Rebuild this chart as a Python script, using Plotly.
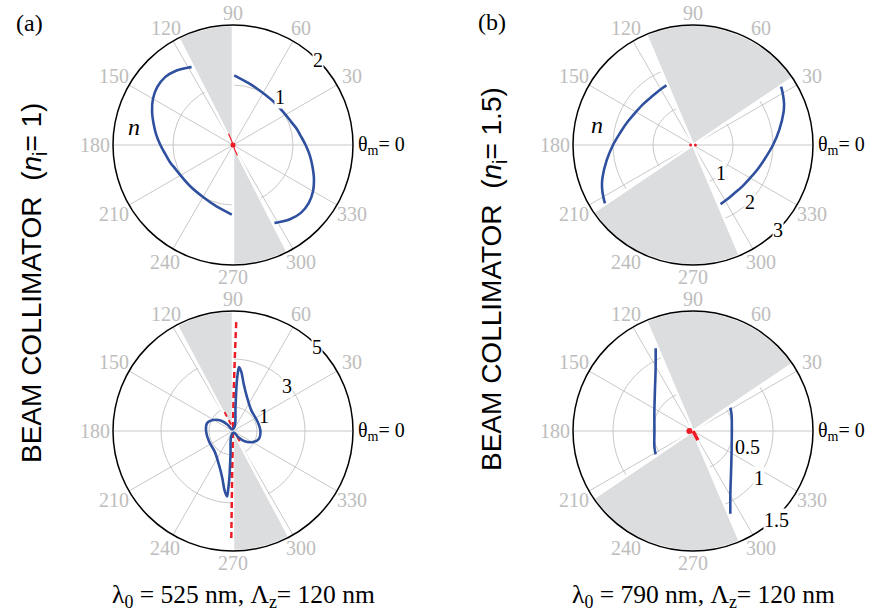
import math
import plotly.graph_objects as go

W, H = 872, 615

# ---------------- data ----------------
ANG_TICKS = [0, 30, 60, 90, 120, 150, 180, 210, 240, 270, 300, 330]
ANG_TEXT = ["θ<sub>m</sub>= 0", "30", "60", "90", "120", "150",
            "180", "210", "240", "270", "300", "330"]

# (a) top : n_i = 1, lambda0 = 525 nm
A1_RMAX = 2
A1_GRID = [1]
A1_WEDGE_THETA = [103.5, 283.5]
A1_WEDGE_WIDTH = [27, 27]
A1_R_THETA = [298, 300, 307.5, 315, 322.5, 330, 337.5, 345, 352.5, 0, 7.5, 15, 22.5, 30, 45, 60, 75, 82, 89]
A1_R_R = [1.47, 1.49, 1.56, 1.60, 1.59, 1.54, 1.46, 1.37, 1.29, 1.21, 1.14, 1.09, 1.04, 1.01, 0.99, 1.00, 1.06, 1.10, 1.16]
A1_L_THETA = [118, 120, 127.5, 135, 142.5, 150, 157.5, 165, 172.5, 180, 187.5, 195, 202.5, 210, 225, 240, 255, 262, 269]
A1_L_R = [1.47, 1.49, 1.56, 1.60, 1.59, 1.54, 1.46, 1.37, 1.29, 1.21, 1.14, 1.09, 1.04, 1.01, 0.99, 1.00, 1.06, 1.10, 1.16]
A1_RED_THETA = [112, 108, 0, 290, 293]
A1_RED_R = [0.2, 0.08, 0, 0.08, 0.19]

# (b) top : n_i = 1.5, lambda0 = 790 nm
B1_RMAX = 3
B1_GRID = [1, 2]
B1_WEDGE_THETA = [73.5, 253.5]
B1_WEDGE_WIDTH = [79, 79]
B1_R_THETA = [295, 300, 310, 320, 330, 340, 350, 0, 10, 20, 25, 30, 33.5]
B1_R_R = [1.63, 1.61, 1.59, 1.61, 1.65, 1.73, 1.84, 2.00, 2.19, 2.41, 2.51, 2.59, 2.64]
B1_L_THETA = [114, 120, 130, 140, 150, 160, 170, 180, 190, 200, 205, 210, 213.5]
B1_L_R = [1.63, 1.61, 1.59, 1.61, 1.65, 1.73, 1.84, 2.00, 2.19, 2.41, 2.51, 2.59, 2.64]
B1_RED_THETA = [180, 0]
B1_RED_R = [0.06, 0.06]

# (a) bottom
A2_RMAX = 5
A2_GRID = [1, 3]
A2_WEDGE_THETA = [104, 284]
A2_WEDGE_WIDTH = [28, 28]
A2_LOBE_THETA = [70, 84, 85.6, 85.3, 84.6, 81.9, 77.3, 67.6, 48.4, 23.9, 1.4, 343.6, 331.2, 318.5, 310, 300,
                 250, 264, 265.6, 265.3, 264.8, 261.9, 257.3, 247.6, 228.4, 203.9, 181.4, 163.6, 151.2, 138.5, 130, 120,
                 70]
A2_LOBE_R = [0.2, 1.0, 1.98, 2.4, 2.68, 2.48, 2.02, 1.53, 1.15, 1.09, 1.14, 1.13, 0.95, 0.65, 0.33, 0.08,
             0.2, 1.0, 1.98, 2.42, 2.74, 2.5, 2.02, 1.53, 1.15, 1.09, 1.12, 1.13, 0.95, 0.65, 0.33, 0.08,
             0.2]
A2_RED_THETA = [88.3, 88.6, 89.0, 89.5, 269.0, 268.9, 269.1]
A2_RED_R = [4.54, 3.0, 1.5, 0.3, 0.3, 2.0, 4.55]
A2_RED2_THETA = [114, 106]
A2_RED2_R = [0.86, 0.25]
A2_RED3_THETA = [306, 302]
A2_RED3_R = [0.3, 0.65]

# (b) bottom
B2_RMAX = 1.5
B2_GRID = [0.5, 1]
B2_WEDGE_THETA = [73.5, 253.5]
B2_WEDGE_WIDTH = [79, 79]
B2_R_THETA = [32, 22.1, 0, 333.4, 311.7, 300.8, 294.3]
B2_R_R = [0.551, 0.521, 0.485, 0.540, 0.714, 0.912, 1.134]
B2_L_THETA = [212, 202.1, 180, 153.4, 131.7, 120.8, 114.3]
B2_L_R = [0.551, 0.521, 0.482, 0.540, 0.714, 0.912, 1.134]
B2_RED_THETA = [0, 298]
B2_RED_R = [0, 0.13]

# ---------------- style ----------------
BLUE = "#2f4f9f"
RED = "#ee1c25"
WEDGE = "#dcdddf"
GRID = "#c8c8c8"
TICKGRAY = "#bdbdbd"
SERIF = "Times New Roman, Liberation Serif, serif"
SANS = "Arial, Liberation Sans, sans-serif"

PANELS = {
    "polar": dict(cx=233, cy=145, R=120),
    "polar2": dict(cx=693, cy=145, R=120),
    "polar3": dict(cx=233, cy=431, R=120),
    "polar4": dict(cx=693, cy=431, R=120),
}


def domain(p):
    return dict(x=[(p["cx"] - p["R"]) / W, (p["cx"] + p["R"]) / W],
                y=[1 - (p["cy"] + p["R"]) / H, 1 - (p["cy"] - p["R"]) / H])


def polar_layout(name, rmax, grid):
    return dict(
        domain=domain(PANELS[name]),
        bgcolor="white",
        angularaxis=dict(rotation=0, direction="counterclockwise", tickmode="array",
                         tickvals=ANG_TICKS, showticklabels=False, ticks="",
                         showline=False, showgrid=True, gridcolor=GRID, gridwidth=1,
                         layer="below traces"),
        radialaxis=dict(range=[0, rmax], tickmode="array", tickvals=grid, showticklabels=False,
                        ticks="", showline=False, showgrid=True, gridcolor=GRID, gridwidth=1,
                        layer="below traces"),
    )


fig = go.Figure()


def wedge(sub, th, wd, rmax):
    fig.add_trace(go.Barpolar(r=[rmax] * len(th), theta=th, width=wd, subplot=sub,
                              marker=dict(color=WEDGE, line=dict(color="white", width=2.5)),
                              hoverinfo="skip"))


def curve(sub, th, r, color=BLUE, width=2.6, dash="solid", shape="spline"):
    fig.add_trace(go.Scatterpolar(r=r, theta=th, mode="lines", subplot=sub,
                                  line=dict(color=color, width=width, dash=dash, shape=shape)))


# (a) top
wedge("polar", A1_WEDGE_THETA, A1_WEDGE_WIDTH, A1_RMAX)
curve("polar", A1_R_THETA, A1_R_R)
curve("polar", A1_L_THETA, A1_L_R)
curve("polar", A1_RED_THETA, A1_RED_R, color=RED, width=1.2, shape="linear")
fig.add_trace(go.Scatterpolar(r=[0], theta=[0], mode="markers", subplot="polar",
                              marker=dict(color=RED, size=5)))

# (b) top
wedge("polar2", B1_WEDGE_THETA, B1_WEDGE_WIDTH, B1_RMAX)
curve("polar2", B1_R_THETA, B1_R_R)
curve("polar2", B1_L_THETA, B1_L_R)
fig.add_trace(go.Scatterpolar(r=B1_RED_R, theta=B1_RED_THETA, mode="markers", subplot="polar2",
                              marker=dict(color=RED, size=3)))

# (a) bottom
wedge("polar3", A2_WEDGE_THETA, A2_WEDGE_WIDTH, A2_RMAX)
curve("polar3", A2_RED_THETA, A2_RED_R, color=RED, width=2.5, dash="6px,4px", shape="linear")
curve("polar3", A2_RED2_THETA, A2_RED2_R, color=RED, width=2, dash="5px,4px", shape="linear")
curve("polar3", A2_RED3_THETA, A2_RED3_R, color=RED, width=2, dash="5px,4px", shape="linear")
curve("polar3", A2_LOBE_THETA, A2_LOBE_R)

# (b) bottom
wedge("polar4", B2_WEDGE_THETA, B2_WEDGE_WIDTH, B2_RMAX)
curve("polar4", B2_R_THETA, B2_R_R)
curve("polar4", B2_L_THETA, B2_L_R)
curve("polar4", B2_RED_THETA, B2_RED_R, color=RED, width=3.5, shape="linear")
fig.add_trace(go.Scatterpolar(r=[0.045], theta=[180], mode="markers", subplot="polar4",
                              marker=dict(color=RED, size=6)))

# ---------------- layout ----------------
shapes = []
for name, p in PANELS.items():
    shapes.append(dict(type="circle", xref="paper", yref="paper", layer="above",
                       x0=(p["cx"] - p["R"]) / W, x1=(p["cx"] + p["R"]) / W,
                       y0=1 - (p["cy"] + p["R"]) / H, y1=1 - (p["cy"] - p["R"]) / H,
                       line=dict(color="black", width=1.5)))


def at(name, ang, dist):
    p = PANELS[name]
    x = p["cx"] + dist * math.cos(math.radians(ang))
    y = p["cy"] - dist * math.sin(math.radians(ang))
    return x / W, 1 - y / H


annotations = []


def label(name, text, ang, dist, size=20, bg=True, color="black", xanchor="center"):
    x, y = at(name, ang, dist)
    annotations.append(dict(x=x, y=y, xref="paper", yref="paper", text=text, showarrow=False,
                            font=dict(family=SERIF, size=size, color=color),
                            bgcolor="white" if bg else None, borderpad=0,
                            xanchor=xanchor, yanchor="middle"))


# angular tick labels (centred on each direction, like the original)
for name, p in PANELS.items():
    for ang, txt in zip(ANG_TICKS, ANG_TEXT):
        if ang == 0:
            label(name, txt, 0, p["R"] + 4, bg=False, xanchor="left")
        else:
            c = abs(math.cos(math.radians(ang)))
            label(name, txt, ang, p["R"] + 12 + 6 * c, bg=False, color=TICKGRAY)

# radial tick labels
label("polar", "1", 46, 67)
label("polar", "2", 45, 120)
label("polar2", "1", -45, 40)
label("polar2", "2", -45, 80)
label("polar2", "3", -45, 120)
label("polar3", "1", 26, 34, bg=False)
label("polar3", "3", 40, 70)
label("polar3", "5", 45, 119)
label("polar4", "0.5", -16, 57, bg=False)
label("polar4", "1", -35.5, 81)
label("polar4", "1.5", -46.6, 122)
# curve labels
label("polar", "<i>n</i>", 170, 101, size=24, bg=False)
label("polar2", "<i>n</i>", 168, 98, size=24, bg=False)


def text(x, y, t, size, family=SERIF, angle=0):
    annotations.append(dict(x=x / W, y=1 - y / H, xref="paper", yref="paper", text=t,
                            showarrow=False, textangle=angle,
                            font=dict(family=family, size=size, color="black"),
                            xanchor="center", yanchor="middle"))


text(29, 23, "(a)", 24)
text(492, 22, "(b)", 24)
text(33, 283, "BEAM COLLIMATOR\u00a0\u00a0(<i>n</i><sub>i</sub>= 1)", 28, family=SANS, angle=-90)
text(493, 279, "BEAM COLLIMATOR\u00a0\u00a0(<i>n</i><sub>i</sub>= 1.5)", 28, family=SANS, angle=-90)
text(243, 596, "λ<sub>0</sub> = 525 nm, Λ<sub>z</sub>= 120 nm", 25.5)
text(703, 596, "λ<sub>0</sub> = 790 nm, Λ<sub>z</sub>= 120 nm", 25.5)

fig.update_layout(
    width=W, height=H, margin=dict(l=0, r=0, t=0, b=0),
    paper_bgcolor="white", plot_bgcolor="white", showlegend=False,
    polar=polar_layout("polar", A1_RMAX, A1_GRID),
    polar2=polar_layout("polar2", B1_RMAX, B1_GRID),
    polar3=polar_layout("polar3", A2_RMAX, A2_GRID),
    polar4=polar_layout("polar4", B2_RMAX, B2_GRID),
    shapes=shapes, annotations=annotations,
)

fig.write_html("out.html", config={"displayModeBar": False},
               post_script="document.body.style.margin='0px';")
